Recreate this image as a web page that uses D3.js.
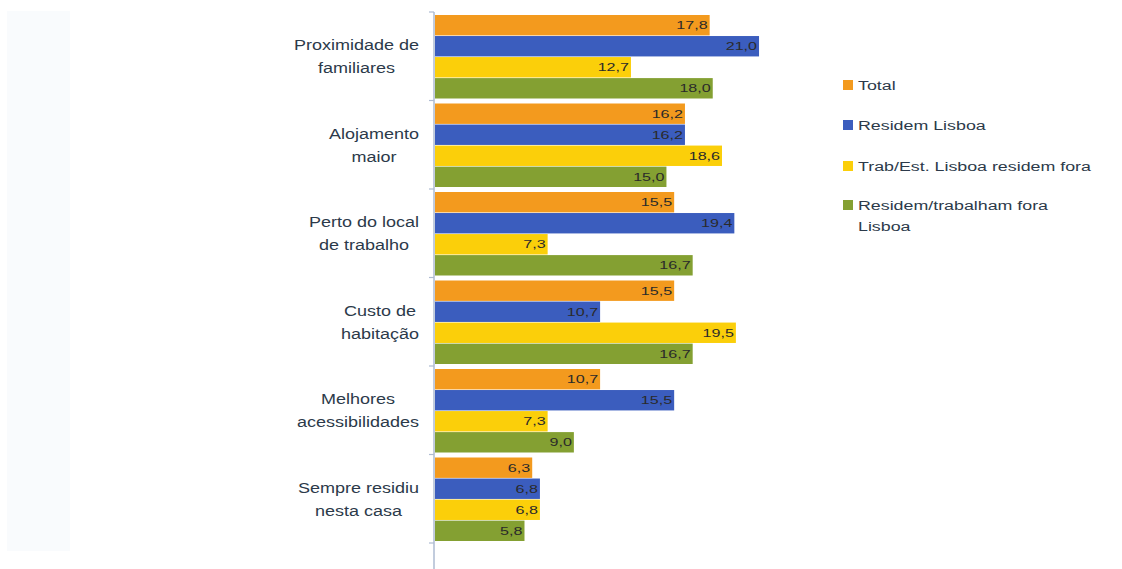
<!DOCTYPE html>
<html>
<head>
<meta charset="utf-8">
<script src="https://cdn.jsdelivr.net/npm/d3@7"></script>
<style>
  html, body { margin: 0; padding: 0; background: #fff; }
  svg { display: block; }
</style>
</head>
<body>
<svg id="chart" width="1122" height="569"></svg>
<script>
// ── Data ─────────────────────────────────────────────
const categories = [
  ['Proximidade de', 'familiares'],
  ['Alojamento', 'maior'],
  ['Perto do local', 'de trabalho'],
  ['Custo de', 'habitação'],
  ['Melhores', 'acessibilidades'],
  ['Sempre residiu', 'nesta casa']
];
const seriesNames = [
  'Total',
  'Residem Lisboa',
  'Trab/Est. Lisboa residem fora',
  'Residem/trabalham fora Lisboa'
];
const total      = [17.8, 16.2, 15.5, 15.5, 10.7, 6.3];
const residem    = [21.0, 16.2, 19.4, 10.7, 15.5, 6.8];
const trabFora   = [12.7, 18.6, 7.3, 19.5, 7.3, 6.8];
const foraLisboa = [18.0, 15.0, 16.7, 16.7, 9.0, 5.8];
const seriesValues = [total, residem, trabFora, foraLisboa];
const colors = ['#f39a1e', '#3b5dbe', '#fbcf0a', '#84a032'];

// ── Layout ───────────────────────────────────────────
const svg = d3.select('#chart');
const font = 'Arial, "Liberation Sans", sans-serif';
const textColor = '#2c3a4a';

// the source image text is stretched sideways; mimic with scaleX
const stretched = (sel, x, y, sx) => sel.attr('transform', `translate(${x},${y}) scale(${sx},1)`);

// faint tint at the left edge of the original image
svg.append('rect')
  .attr('x', 7).attr('y', 11).attr('width', 63).attr('height', 540)
  .attr('fill', '#f9fbfd');

const catKeys = categories.map((c, i) => i);
const y0 = d3.scaleBand().domain(catKeys).range([12, 543]).padding(0);
const y1 = d3.scaleBand().domain(d3.range(seriesNames.length))
  .range([3, y0.bandwidth() - 2]).paddingInner(0.03);
const x = d3.scaleLinear().domain([0, 25]).range([435, 435 + 25 * 15.43]);

const fmt = v => d3.format('.1f')(v).replace('.', ',');

// ── Bars ─────────────────────────────────────────────
const rows = [];
catKeys.forEach(ci => seriesValues.forEach((vals, si) => rows.push({ ci, si, v: vals[ci] })));

const g = svg.append('g');
g.selectAll('rect.bar')
  .data(rows)
  .join('rect')
    .attr('class', 'bar')
    .attr('x', x(0))
    .attr('y', d => y0(d.ci) + y1(d.si))
    .attr('width', d => x(d.v) - x(0))
    .attr('height', y1.bandwidth())
    .attr('fill', d => colors[d.si]);

g.selectAll('text.val')
  .data(rows)
  .join('text')
    .attr('class', 'val')
    .attr('dy', '0.36em')
    .attr('text-anchor', 'end')
    .attr('font-family', font)
    .attr('font-size', 11.5)
    .attr('fill', '#2a2a2a')
    .text(d => fmt(d.v))
    .each(function(d) {
      stretched(d3.select(this), x(d.v) - 2, y0(d.ci) + y1(d.si) + y1.bandwidth() / 2, 1.4);
    });

// ── Axis ─────────────────────────────────────────────
const axisColor = '#aebbd2';
g.append('line')
  .attr('x1', x(0) - 1).attr('x2', x(0) - 1)
  .attr('y1', 12).attr('y2', 569)
  .attr('stroke', axisColor).attr('stroke-width', 1.5);

const bounds = catKeys.map(ci => y0(ci)).concat([y0.range()[1]]);
g.selectAll('line.tick')
  .data(bounds)
  .join('line')
    .attr('class', 'tick')
    .attr('x1', x(0) - 6).attr('x2', x(0) - 1)
    .attr('y1', d => d).attr('y2', d => d)
    .attr('stroke', axisColor).attr('stroke-width', 1.2);

// Category labels: block right-aligned, lines centred
const labelRight = 419;
const catSx = 1.2;
catKeys.forEach(ci => {
  const lines = categories[ci];
  const cy = y0(ci) + y0.bandwidth() / 2;
  const texts = lines.map(t => g.append('text')
    .attr('dy', '0.35em')
    .attr('text-anchor', 'middle')
    .attr('font-family', font)
    .attr('font-size', 15)
    .attr('fill', textColor)
    .text(t));
  const wMax = d3.max(texts, t => t.node().getComputedTextLength()) * catSx;
  texts.forEach((t, li) =>
    stretched(t, labelRight - wMax / 2, cy + (li - (lines.length - 1) / 2) * 23, catSx));
});

// ── Legend ───────────────────────────────────────────
const legendY = [85, 125, 166, 205];
const legendLines = [['Total'], ['Residem Lisboa'], ['Trab/Est. Lisboa residem fora'], ['Residem/trabalham fora', 'Lisboa']];
const lg = svg.append('g');
seriesNames.forEach((name, i) => {
  lg.append('rect')
    .attr('x', 843).attr('y', legendY[i] - 5)
    .attr('width', 10).attr('height', 10)
    .attr('fill', colors[i]);
  legendLines[i].forEach((t, li) => {
    const tx = lg.append('text')
      .attr('dy', '0.36em')
      .attr('font-family', font)
      .attr('font-size', 13.5)
      .attr('fill', textColor)
      .text(t);
    stretched(tx, 858, legendY[i] + li * 21, 1.32);
  });
});
</script>
</body>
</html>
